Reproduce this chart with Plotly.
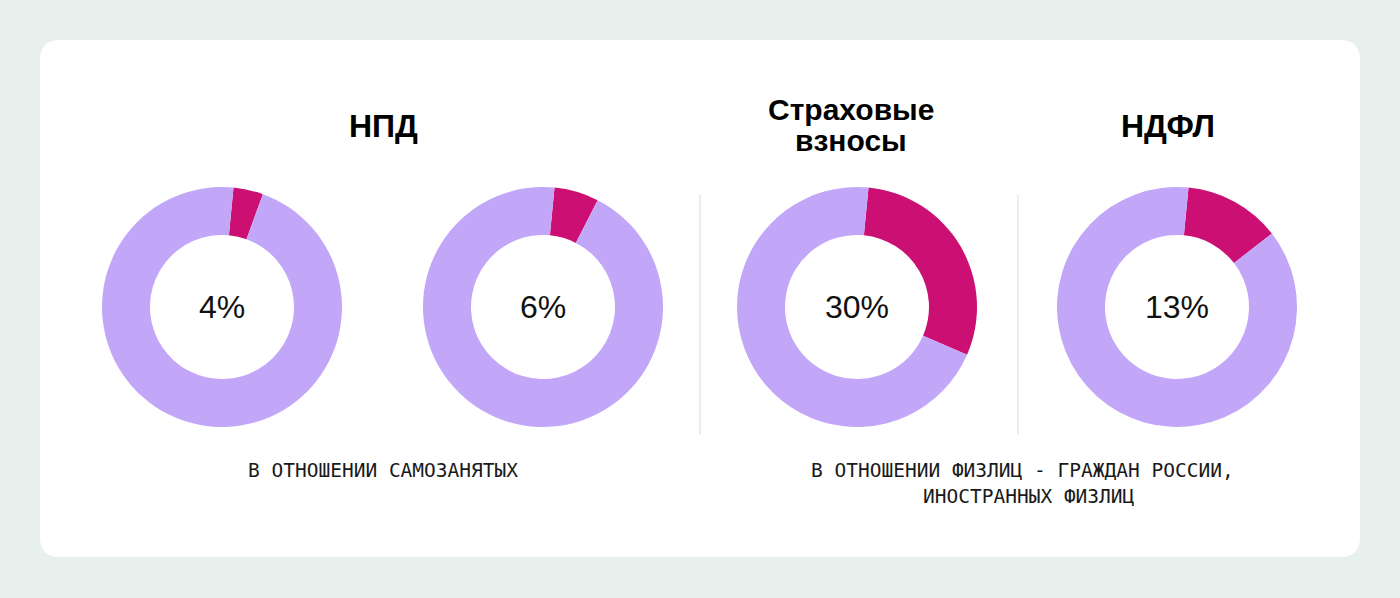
import plotly.graph_objects as go

# tax rates shown in the donuts, percent
rates = [4, 6, 30, 13]
rest = [96, 94, 70, 87]
labels_pct = ["4%", "6%", "30%", "13%"]

titles = ["НПД", "Страховые", "взносы", "НДФЛ"]
captions = ["В ОТНОШЕНИИ САМОЗАНЯТЫХ",
            "В ОТНОШЕНИИ ФИЗЛИЦ - ГРАЖДАН РОССИИ,",
            "ИНОСТРАННЫХ ФИЗЛИЦ"]

W, H = 1400, 598
BG = "#E8F0EE"
LAVENDER = "#C2A7F9"
MAGENTA = "#CC1073"

# donut centres in pixels (x, y from top) and radius
centers = [(222, 307), (543, 307), (857, 307), (1177, 307)]
R = 120


def px_x(v):
    return v / W


def px_y(v):
    return 1 - v / H


fig = go.Figure()

for i, (cx, cy) in enumerate(centers):
    fig.add_trace(go.Pie(
        values=[rates[i], rest[i]],
        labels=["ставка", "остальное"],
        marker=dict(colors=[MAGENTA, LAVENDER], line=dict(width=0)),
        hole=0.6,
        sort=False,
        direction="clockwise",
        rotation=5.5,
        textinfo="none",
        hoverinfo="skip",
        showlegend=False,
        domain=dict(x=[px_x(cx - R), px_x(cx + R)],
                    y=[px_y(cy + R), px_y(cy - R)]),
    ))
    fig.add_annotation(
        x=px_x(cx), y=px_y(cy), xref="paper", yref="paper",
        xanchor="center", yanchor="middle",
        text=labels_pct[i], showarrow=False,
        font=dict(family="Liberation Sans", size=32, color="#111111"),
    )

# white rounded card
x0, x1, y0, y1 = px_x(40), px_x(1360), px_y(557), px_y(40)
rx, ry = 20 / W, 20 / H
card = (f"M {x0 + rx},{y0} L {x1 - rx},{y0} Q {x1},{y0} {x1},{y0 + ry} "
        f"L {x1},{y1 - ry} Q {x1},{y1} {x1 - rx},{y1} "
        f"L {x0 + rx},{y1} Q {x0},{y1} {x0},{y1 - ry} "
        f"L {x0},{y0 + ry} Q {x0},{y0} {x0 + rx},{y0} Z")
fig.add_shape(type="path", path=card, xref="paper", yref="paper",
              fillcolor="white", line=dict(width=0), layer="below")

# thin dividers
for dx in [700, 1018]:
    fig.add_shape(type="line", xref="paper", yref="paper",
                  x0=px_x(dx), x1=px_x(dx), y0=px_y(195), y1=px_y(435),
                  line=dict(color="#DCDCDC", width=1))

# titles
title_pos = [(383, 126, 32), (851, 109, 30), (851, 141, 30), (1168, 126, 32)]
for t, (tx, ty, fs) in zip(titles, title_pos):
    fig.add_annotation(
        x=px_x(tx), y=px_y(ty), xref="paper", yref="paper",
        xanchor="center", yanchor="middle",
        text=f"<b>{t}</b>", showarrow=False, align="center",
        font=dict(family="Liberation Sans", size=fs, color="#000000"),
    )

# captions
cap_pos = [(383, 470), (1022, 470), (1029, 496)]
for c, (tx, ty) in zip(captions, cap_pos):
    fig.add_annotation(
        x=px_x(tx), y=px_y(ty), xref="paper", yref="paper",
        xanchor="center", yanchor="middle",
        text=c, showarrow=False, align="center",
        font=dict(family="DejaVu Sans Mono", size=19.5, color="#1A1A1A"),
    )

fig.update_layout(
    width=W, height=H,
    margin=dict(l=0, r=0, t=0, b=0),
    paper_bgcolor=BG,
    plot_bgcolor=BG,
    showlegend=False,
)

fig.write_html("out.html",
               config={"displayModeBar": False},
               post_script="document.body.style.margin='0';"
                           "document.body.style.background='" + BG + "';")
